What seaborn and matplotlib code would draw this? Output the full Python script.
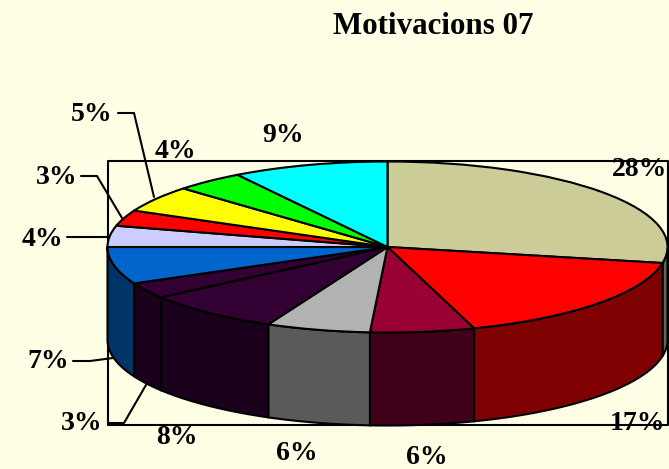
import numpy as np
import matplotlib
matplotlib.use("Agg")
import matplotlib.pyplot as plt
import seaborn as sns

# slices clockwise from 12 o'clock
shares = [28, 17, 6, 6, 8, 3, 7, 4, 3, 5, 4, 9]
share_labels = ["28%", "17%", "6%", "6%", "8%", "3%", "7%", "4%", "3%", "5%", "4%", "9%"]
top_colors = ["#CCCC99", "#FF0000", "#990033", "#B2B2B2", "#330033", "#330033",
              "#0066CC", "#CCCCFF", "#FF0000", "#FFFF00", "#00FF00", "#00FFFF"]
side_colors = ["#666650", "#7F0000", "#40001A", "#5A5A5A", "#1A001A", "#1A001A",
               "#003366", "#66667F", "#7F0000", "#7F7F00", "#007F00", "#007F7F"]
title = "Motivacions 07"

# label centres in pixels, same order as shares
label_pos = [(640, 169), (638, 423), (427, 457), (297, 454), (177, 438), (82, 423),
             (48, 362), (42, 239), (57, 177), (92, 115), (175, 151), (283, 135)]
# leader lines in pixels
leaders = [
    [(118, 113), (134, 113), (154, 197)],
    [(81, 176), (97, 176), (122, 218)],
    [(67, 237), (108, 237)],
    [(73, 361), (90, 361), (113, 358)],
    [(108, 423), (124, 423), (146, 385)],
]

W, H = 669, 469
CX, CY, RX, RY = 387.5, 247, 280, 85.5
DEPTH = 93 / RY
BG = "#FFFFE5"
EDGE = 1.5

sns.set_theme(style="white")
plt.rcParams["font.family"] = ["Liberation Serif", "DejaVu Serif"]

fig = plt.figure(figsize=(W / 100, H / 100), dpi=100, facecolor=BG)
ax = fig.add_axes([0, 0, 1, 1])


def px(x, y):
    """Pixel position to pie data units (unit circle = top ellipse)."""
    return (x - CX) / RX, (CY - y) / RY


ax.pie(shares, radius=1, startangle=90, counterclock=False, colors=top_colors,
       wedgeprops={"edgecolor": "black", "linewidth": EDGE, "zorder": 5})
ax.set_aspect("auto")
ax.set_xlim(px(0, 0)[0], px(W, 0)[0])
ax.set_ylim(px(0, H)[1], px(0, 0)[1])
ax.set_axis_off()

# frame behind the pie
fx0, fy0 = px(108, 425)
fx1, fy1 = px(668, 161)
ax.plot([fx0, fx1, fx1, fx0, fx0], [fy0, fy0, fy1, fy1, fy0], color="black", lw=EDGE, zorder=1)

# side wall, only the front half of the disc shows
ends = np.cumsum(shares) / np.sum(shares) * 2 * np.pi
starts = np.r_[0, ends[:-1]]
for a0, a1, c in zip(starts, ends, side_colors):
    a0, a1 = max(a0, np.pi / 2), min(a1, 3 * np.pi / 2)
    if a1 <= a0:
        continue
    t = np.linspace(a0, a1, 60)
    xs, ys = np.sin(t), np.cos(t)
    ax.fill(np.r_[xs, xs[::-1]], np.r_[ys, ys[::-1] - DEPTH], facecolor=c,
            edgecolor="black", lw=EDGE, zorder=3)

for line in leaders:
    pts = [px(*p) for p in line]
    ax.plot([p[0] for p in pts], [p[1] for p in pts], color="black", lw=EDGE, zorder=2)

for text, (x, y) in zip(share_labels, label_pos):
    tx, ty = px(x, y)
    ax.text(tx, ty, text, ha="center", va="center", fontsize=20, fontweight="bold",
            color="black", zorder=6)

tx, ty = px(433, 27)
ax.text(tx, ty, title, ha="center", va="center", fontsize=22.3, fontweight="bold", color="black")

fig.savefig("out.png", dpi=100, facecolor=BG)
